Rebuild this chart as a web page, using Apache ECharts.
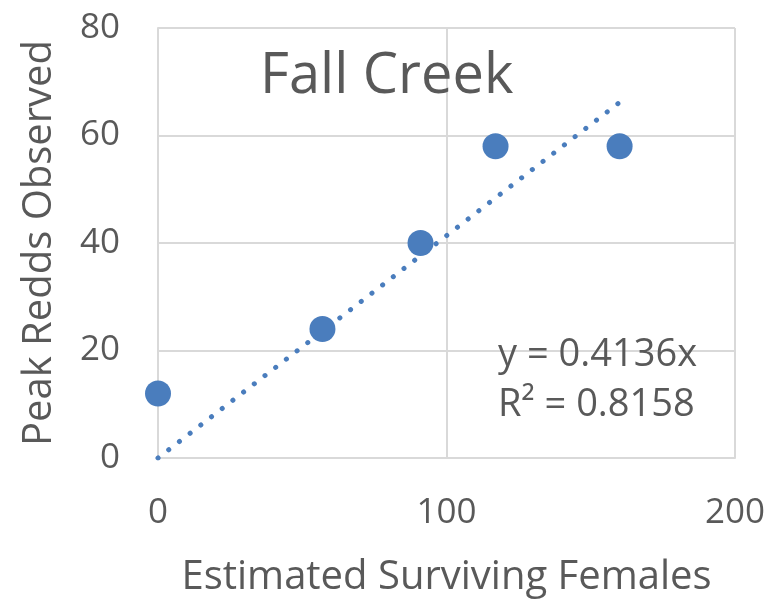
<!DOCTYPE html>
<html>
<head>
<meta charset="utf-8">
<script src="https://cdn.jsdelivr.net/npm/echarts@6/dist/echarts.min.js"></script>
<style>
  html, body { margin: 0; padding: 0; background: #fff; }
  #chart { width: 774px; height: 606px; }
</style>
</head>
<body>
<div id="chart"></div>
<script>
  // observed points
  const females = [0, 57, 91, 117, 160];
  const redds = [12, 24, 40, 58, 58];

  // trendline from the equation shown on the chart
  const slope = 0.4136;
  const rSquared = 0.8158;
  const trendX = [0, 160.5];

  const xTicks = [0, 100, 200];
  const yTicks = [0, 20, 40, 60, 80];

  const textColor = '#595959';
  const gridColor = '#d9d9d9';
  const blue = '#4a7dbd';
  const font = '"Open Sans", sans-serif';

  const chart = echarts.init(document.getElementById('chart'));

  const option = {
    animation: false,
    title: {
      text: 'Fall Creek',
      left: 255,
      top: 44,
      textStyle: { color: textColor, fontSize: 56, fontWeight: 'normal', fontFamily: font },
    },
    grid: { left: 158, right: 39, top: 28, bottom: 148 },
    xAxis: {
      type: 'value',
      min: xTicks[0],
      max: xTicks[xTicks.length - 1],
      interval: 100,
      name: 'Estimated Surviving Females',
      nameLocation: 'middle',
      nameGap: 100,
      nameTextStyle: { color: textColor, fontSize: 40, fontFamily: font },
      axisLine: { show: true, lineStyle: { color: gridColor, width: 2 } },
      axisTick: { show: false },
      axisLabel: { color: textColor, fontSize: 35, fontFamily: font, margin: 38 },
      splitLine: { lineStyle: { color: gridColor, width: 2 } },
    },
    yAxis: {
      type: 'value',
      min: yTicks[0],
      max: yTicks[yTicks.length - 1],
      interval: 20,
      name: 'Peak Redds Observed',
      nameLocation: 'middle',
      nameGap: 98,
      nameTextStyle: { color: textColor, fontSize: 40, fontFamily: font },
      axisLine: { show: true, lineStyle: { color: gridColor, width: 2 } },
      axisTick: { show: false },
      axisLabel: { color: textColor, fontSize: 35, fontFamily: font, margin: 38 },
      splitLine: { lineStyle: { color: gridColor, width: 2 } },
    },
    graphic: [
      {
        type: 'text',
        left: 498,
        top: 330,
        style: {
          text: 'y = ' + slope + 'x\nR² = ' + rSquared,
          fill: textColor,
          font: '38px "Open Sans", sans-serif',
          lineHeight: 50,
        },
        z: 10,
      },
    ],
    series: [
      {
        type: 'line',
        data: trendX.map((x) => [x, x * slope]),
        symbol: 'none',
        lineStyle: { color: blue, width: 5, type: [0.1, 13.4], cap: 'round' },
        z: 2,
      },
      {
        type: 'scatter',
        data: females.map((x, i) => [x, redds[i]]),
        symbolSize: 26,
        itemStyle: { color: blue, opacity: 1 },
        z: 3,
      },
    ],
  };

  chart.setOption(option);
</script>
</body>
</html>
